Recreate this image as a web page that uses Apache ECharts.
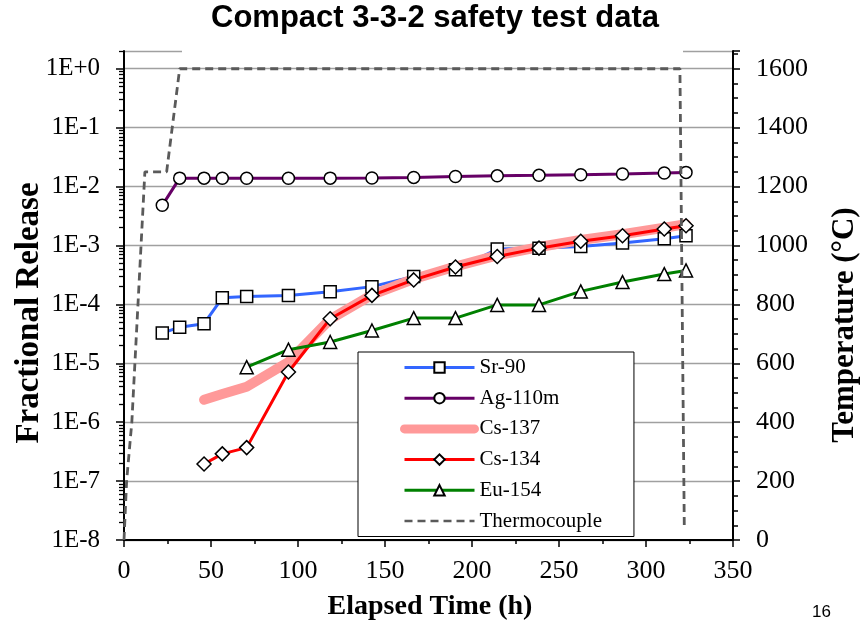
<!DOCTYPE html>
<html><head><meta charset="utf-8">
<script src="https://cdn.jsdelivr.net/npm/echarts@6/dist/echarts.min.js"></script>
<style>html,body{margin:0;padding:0;background:#fff}#c{width:861px;height:627px}</style>
</head><body><div id="c"></div>
<script>
// ---- data ----
const hours = [22, 32, 46, 56.5, 70.5, 94.5, 118.5, 142.5, 166.5, 190.5, 214.5, 238.5, 262.5, 286.5, 310.5, 323];
const sr90   = [3.25e-5, 4.1e-5, 4.7e-5, 1.29e-4, 1.36e-4, 1.42e-4, 1.64e-4, 2.0e-4, 2.98e-4, 3.87e-4, 8.7e-4, 9.0e-4, 9.6e-4, 1.1e-3, 1.3e-3, 1.46e-3];
const ag110m = [4.8e-3, 1.39e-2, 1.39e-2, 1.38e-2, 1.38e-2, 1.38e-2, 1.39e-2, 1.40e-2, 1.43e-2, 1.48e-2, 1.52e-2, 1.55e-2, 1.59e-2, 1.63e-2, 1.70e-2, 1.74e-2];
const cs137  = [null, null, 2.4e-6, 3.0e-6, 4.0e-6, 1.05e-5, 5.6e-5, 1.45e-4, 2.7e-4, 4.4e-4, 6.8e-4, 9.4e-4, 1.24e-3, 1.55e-3, 2.0e-3, 2.3e-3];
const cs134  = [null, null, 1.95e-7, 2.9e-7, 3.7e-7, 7.1e-6, 5.7e-5, 1.42e-4, 2.6e-4, 4.3e-4, 6.5e-4, 9.0e-4, 1.18e-3, 1.46e-3, 1.9e-3, 2.16e-3];
const eu154  = [null, null, null, null, 8.6e-6, 1.7e-5, 2.3e-5, 3.6e-5, 5.85e-5, 5.85e-5, 9.8e-5, 9.8e-5, 1.66e-4, 2.39e-4, 3.27e-4, 3.77e-4];
const tcHours = [0, 1.5, 4.5, 12, 24.5, 32, 319.5, 322];
const tcTemps = [0, 200, 400, 1250, 1250, 1600, 1600, 50];
const seriesNames = ['Sr-90', 'Ag-110m', 'Cs-137', 'Cs-134', 'Eu-154', 'Thermocouple'];
const logMajors = [1e-8, 1e-7, 1e-6, 1e-5, 1e-4, 1e-3, 1e-2, 1e-1, 1];
const tempTicks = [0, 200, 400, 600, 800, 1000, 1200, 1400, 1600];

const logMinors = [];
for (let e = -8; e < 0; e++) for (let m = 2; m <= 9; m++) logMinors.push(m * Math.pow(10, e));
logMinors.push(2);

function pairs(xs, ys) {
  const out = [];
  xs.forEach((x, i) => { if (ys[i] != null) out.push([x, ys[i]]); });
  return out;
}
const SERIF = '"Liberation Serif", "Times New Roman", serif';
const SANS = '"Liberation Sans", Arial, sans-serif';

function markerSeries(name, ys, color, symbol, size) {
  return {
    name, type: 'line', yAxisIndex: 0, data: pairs(hours, ys),
    color: color,
    symbol, symbolSize: size, showAllSymbol: true,
    lineStyle: { color, width: 3 },
    itemStyle: { color: '#fff', borderColor: '#000', borderWidth: 1.5 },
    emphasis: { disabled: true }
  };
}

const hiddenMarker = { color: 'rgba(0,0,0,0)', borderColor: 'rgba(0,0,0,0)', borderWidth: 0, opacity: 0 };
const legendData = seriesNames.map(n => {
  if (n === 'Cs-137') return { name: n, lineStyle: { width: 9, cap: 'round' }, itemStyle: hiddenMarker };
  if (n === 'Thermocouple') return { name: n, lineStyle: { width: 2.5 }, itemStyle: hiddenMarker };
  return { name: n, lineStyle: { width: 3 } };
});

const chart = echarts.init(document.getElementById('c'));
chart.setOption({
  animation: false,
  backgroundColor: '#fff',
  grid: { left: 124, right: 128, top: 51, bottom: 87, containLabel: false },
  xAxis: {
    type: 'value', min: 0, max: 350, interval: 50,
    axisLine: { show: true, onZero: false, lineStyle: { color: '#000', width: 2 } },
    axisTick: { show: true, length: 7, lineStyle: { color: '#000', width: 1.5 } },
    minorTick: { show: true, splitNumber: 2, length: 4, lineStyle: { color: '#000', width: 1.5 } },
    axisLabel: { color: '#000', fontFamily: SERIF, fontSize: 26, margin: 18 },
    splitLine: { show: false }
  },
  yAxis: [
    {
      type: 'log', logBase: 10, min: 1e-8, max: 2, position: 'left',
      axisLine: { show: true, lineStyle: { color: '#000', width: 2 } },
      axisTick: { show: true, length: 8, customValues: logMajors, lineStyle: { color: '#000', width: 1.5 } },
      axisLabel: {
        customValues: logMajors, color: '#000', fontFamily: SERIF, fontSize: 25, margin: 24,
        formatter: v => { const e = Math.round(Math.log10(v)); return '1E' + (e >= 0 ? '+' : '') + e; }
      },
      splitLine: { show: false }, minorTick: { show: false }
    },
    {
      type: 'value', min: 0, max: 1660.2, interval: 200, position: 'right',
      axisLine: { show: true, lineStyle: { color: '#000', width: 2 } },
      axisTick: { show: true, length: 7, lineStyle: { color: '#000', width: 1.5 } },
      minorTick: { show: true, splitNumber: 4, length: 5, lineStyle: { color: '#000', width: 1.5 } },
      axisLabel: {
        color: '#000', fontFamily: SERIF, fontSize: 26, margin: 23,
        formatter: v => (tempTicks.indexOf(Math.round(v)) >= 0 && Math.abs(v - Math.round(v)) < 1e-6) ? String(v) : ''
      },
      splitLine: { show: true, lineStyle: { color: '#a0a0a0', width: 1.3 } }
    },
    {
      type: 'log', logBase: 10, min: 1e-8, max: 2, position: 'left',
      axisLine: { show: false },
      axisTick: { show: true, length: 5, customValues: logMinors, lineStyle: { color: '#000', width: 1.3 } },
      axisLabel: { show: false },
      splitLine: { show: false }, minorTick: { show: false }
    }
  ],
  legend: {
    orient: 'vertical', left: 358, top: 352,
    data: legendData,
    padding: [5, 32, 5, 42],
    itemWidth: 70, itemHeight: 13, itemGap: 9.7,
    backgroundColor: '#fff', borderColor: '#000', borderWidth: 1,
    textStyle: { color: '#000', fontFamily: SERIF, fontSize: 21, lineHeight: 21 },
    selectedMode: false
  },
  series: [
    markerSeries('Sr-90', sr90, '#3366ff', 'rect', 12),
    markerSeries('Ag-110m', ag110m, '#660066', 'circle', 12),
    {
      name: 'Cs-137', type: 'line', yAxisIndex: 0, data: pairs(hours, cs137),
      color: '#ff9999', symbol: 'none',
      lineStyle: { color: '#ff9999', width: 10, cap: 'round', join: 'round' },
      emphasis: { disabled: true }
    },
    markerSeries('Cs-134', cs134, '#ff0000', 'diamond', 14),
    markerSeries('Eu-154', eu154, '#008000', 'triangle', 13),
    {
      name: 'Thermocouple', type: 'line', yAxisIndex: 1, data: pairs(tcHours, tcTemps),
      color: '#5a5a5a', symbol: 'none',
      lineStyle: { color: '#5a5a5a', width: 2.8, type: [8, 5] },
      emphasis: { disabled: true }, z: 5
    }
  ],
  graphic: [
    { type: 'rect', z: 100, shape: { x: 182, y: 44, width: 501, height: 12 }, style: { fill: '#fff' } },
    { type: 'text', z: 101, x: 435, y: 18,
      style: { text: 'Compact 3-3-2 safety test data', font: 'bold 31px ' + SANS, fill: '#000',
               align: 'center', verticalAlign: 'middle', textAlign: 'center', textVerticalAlign: 'middle' } },
    { type: 'text', z: 101, x: 430, y: 607,
      style: { text: 'Elapsed Time (h)', font: 'bold 28px ' + SERIF, fill: '#000',
               align: 'center', verticalAlign: 'middle', textAlign: 'center', textVerticalAlign: 'middle' } },
    { type: 'text', z: 101, x: 29, y: 313, rotation: Math.PI / 2,
      style: { text: 'Fractional Release', font: 'bold 33px ' + SERIF, fill: '#000',
               align: 'center', verticalAlign: 'middle', textAlign: 'center', textVerticalAlign: 'middle' } },
    { type: 'text', z: 101, x: 845, y: 325, rotation: Math.PI / 2,
      style: { text: 'Temperature (\u00B0C)', font: 'bold 31px ' + SERIF, fill: '#000',
               align: 'center', verticalAlign: 'middle', textAlign: 'center', textVerticalAlign: 'middle' } },
    { type: 'text', z: 101, x: 812, y: 612,
      style: { text: '16', font: '17px ' + SANS, fill: '#000',
               align: 'left', verticalAlign: 'middle', textAlign: 'left', textVerticalAlign: 'middle' } }
  ]
});
</script>
</body></html>
